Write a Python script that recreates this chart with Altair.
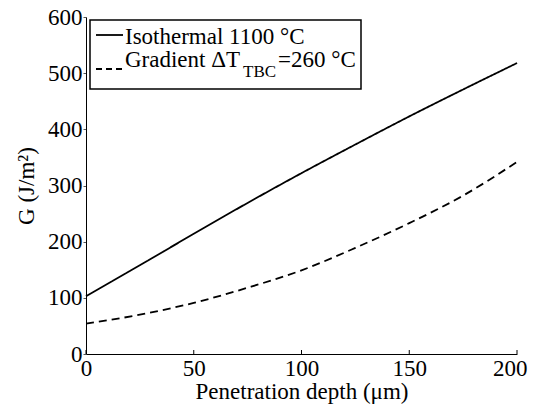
import altair as alt
import pandas as pd

# Data
depth = [0, 25, 50, 75, 100, 125, 150, 175, 200]
g_isothermal = [103, 158, 214, 269, 322, 373, 423, 471, 518]
g_gradient = [54, 70, 91, 118, 149, 189, 233, 282, 342]
series_names = ["Isothermal 1100 °C", "Gradient ΔT=260 °C"]
x_ticks = [0, 50, 100, 150, 200]
y_ticks = [0, 100, 200, 300, 400, 500, 600]
legend_line1 = "Isothermal 1100 °C"
legend_line2a = "Gradient ΔT"
legend_line2_sub = "TBC"
legend_line2b = "=260 °C"

FONT = "Liberation Serif"
W, H = 431, 337

rows = []
for d, v in zip(depth, g_isothermal):
    rows.append({"depth": d, "G": v, "series": series_names[0]})
for d, v in zip(depth, g_gradient):
    rows.append({"depth": d, "G": v, "series": series_names[1]})
df = pd.DataFrame(rows)

xscale = alt.Scale(domain=[0, 200], nice=False, zero=False)
yscale = alt.Scale(domain=[0, 600], nice=False)

lines = alt.Chart(df).mark_line(color="black", strokeWidth=1.8, interpolate="monotone").encode(
    x=alt.X("depth:Q", scale=xscale,
            axis=alt.Axis(title="Penetration depth (μm)", values=x_ticks, grid=False,
                          ticks=False, labelPadding=3, titlePadding=0, labelFlush=False,
                          labelAlign={"condition": {"test": "datum.value == 200", "value": "right"},
                                      "value": "center"},
                          labelOffset={"condition": {"test": "datum.value == 200", "value": 10},
                                       "value": 0},
                          domainColor="black", labelColor="black", titleColor="black")),
    y=alt.Y("G:Q", scale=yscale,
            axis=alt.Axis(title="G (J/m²)", values=y_ticks, grid=False,
                          ticks=True, tickSize=3, tickColor="#555", labelPadding=1,
                          titlePadding=9, labelFlush=False,
                          domainColor="black", labelColor="black", titleColor="black")),
    strokeDash=alt.StrokeDash("series:N",
                              scale=alt.Scale(domain=series_names, range=[[1, 0], [8, 5]]),
                              legend=None),
    detail="series:N",
)

xt = alt.Chart(pd.DataFrame({"t": x_ticks})).mark_rule(color="black", strokeWidth=1).encode(
    x=alt.X("t:Q", scale=xscale), y=alt.value(H), y2=alt.value(H - 4)
)

one = pd.DataFrame({"a": [0]})
box = alt.Chart(one).mark_rect(fill="white", stroke="black", strokeWidth=1.5).encode(
    x=alt.value(4), x2=alt.value(275), y=alt.value(3), y2=alt.value(72)
)
sym1 = alt.Chart(one).mark_rule(color="black", strokeWidth=1.8).encode(
    x=alt.value(10), x2=alt.value(37), y=alt.value(18)
)
sym2 = alt.Chart(one).mark_rule(color="black", strokeWidth=1.8, strokeDash=[6, 4]).encode(
    x=alt.value(10), x2=alt.value(37), y=alt.value(52)
)

def txt(s, x, y, size):
    return alt.Chart(one).mark_text(font=FONT, fontSize=size, align="left",
                                    baseline="alphabetic", color="black").encode(
        x=alt.value(x), y=alt.value(y), text=alt.value(s))

t1 = txt(legend_line1, 39, 27, 23)
t2a = txt(legend_line2a, 39, 50, 23)
t2s = txt(legend_line2_sub, 157, 60, 17)
t2b = txt(legend_line2b, 192, 50, 23)

chart = alt.layer(lines, xt, box, sym1, sym2, t1, t2a, t2s, t2b).properties(
    width=W, height=H,
    autosize=alt.AutoSizeParams(type="none"),
    padding={"left": 78, "top": 9, "right": 11, "bottom": 50},
).configure_view(stroke=None).configure_axis(
    labelFont=FONT, titleFont=FONT, labelFontSize=23, titleFontSize=23,
    titleFontWeight="normal", domainWidth=1
)

chart.save("out.html", embed_options={"renderer": "svg", "actions": False})
